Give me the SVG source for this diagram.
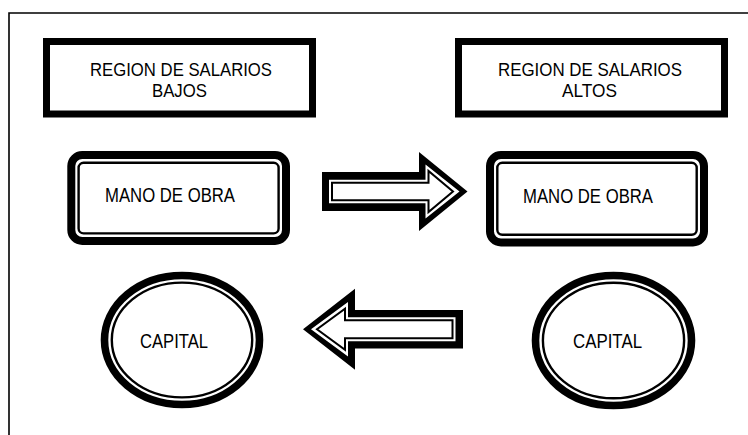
<svg xmlns="http://www.w3.org/2000/svg" width="748" height="435" viewBox="0 0 748 435">
<style>
  .lbl { font-family: "Liberation Sans", Arial, sans-serif; fill: #000; }
  .box { fill: #fff; stroke: #000; stroke-width: 7; }
  .thick { fill: #fff; stroke: #000; stroke-width: 8; }
  .thin { fill: #fff; stroke: #000; stroke-width: 2.4; }
  .ablack { fill: #000; }
  .awhite { fill: #fff; }
  .athin { fill: #fff; stroke: #000; stroke-width: 2; stroke-linejoin: miter; }
</style>
<rect x="0" y="0" width="748" height="435" fill="#fff"/>
<polyline points="9,435 9,13 748,13" fill="none" stroke="#000" stroke-width="1.6"/>

<g id="region-bajos">
  <rect class="box" x="46.5" y="41.5" width="266" height="72.5"/>
  <text class="lbl" font-size="18.5"><tspan x="90" y="75.5" textLength="182" lengthAdjust="spacingAndGlyphs">REGION DE SALARIOS</tspan><tspan x="152" y="96.5" textLength="55" lengthAdjust="spacingAndGlyphs">BAJOS</tspan></text>
</g>

<g id="region-altos">
  <rect class="box" x="458.5" y="41.5" width="266" height="72.5"/>
  <text class="lbl" font-size="18.5"><tspan x="498" y="75.5" textLength="184" lengthAdjust="spacingAndGlyphs">REGION DE SALARIOS</tspan><tspan x="562" y="96.5" textLength="55" lengthAdjust="spacingAndGlyphs">ALTOS</tspan></text>
</g>

<g id="mano-obra-bajos">
  <rect class="thick" x="71.3" y="155" width="214.7" height="86" rx="11" ry="11"/>
  <rect class="thin" x="78.6" y="162.8" width="200" height="70.6" rx="5" ry="5"/>
  <text class="lbl" x="105" y="202" font-size="20" textLength="130" lengthAdjust="spacingAndGlyphs">MANO DE OBRA</text>
</g>

<g id="mano-obra-altos">
  <rect class="thick" x="490" y="155" width="214" height="87.5" rx="11" ry="11"/>
  <rect class="thin" x="497.3" y="162.8" width="199.4" height="72" rx="5" ry="5"/>
  <text class="lbl" x="523" y="203" font-size="20" textLength="130" lengthAdjust="spacingAndGlyphs">MANO DE OBRA</text>
</g>

<g id="capital-bajos">
  <ellipse class="thick" cx="182" cy="340" rx="77.5" ry="64.5" style="stroke-width:7.6"/>
  <ellipse class="thin" cx="182" cy="340" rx="70.2" ry="57.4"/>
  <text class="lbl" x="140" y="348" font-size="20" textLength="68" lengthAdjust="spacingAndGlyphs">CAPITAL</text>
</g>

<g id="capital-altos">
  <ellipse class="thick" cx="613.5" cy="340.5" rx="78" ry="65" style="stroke-width:7.6"/>
  <ellipse class="thin" cx="613.5" cy="340.5" rx="70.6" ry="57.8"/>
  <text class="lbl" x="573" y="348" font-size="20" textLength="69" lengthAdjust="spacingAndGlyphs">CAPITAL</text>
</g>

<g id="connectors">
  <g id="arrow-mano-obra">
    <polygon class="ablack" points="322,172 419,172 419,152 467.5,191.5 419,231 419,211 322,211"/>
    <polygon class="awhite" points="329,179.8 425.5,179.8 425.5,164.5 459.5,191.5 425.5,218.5 425.5,203.2 329,203.2"/>
    <polygon class="athin" points="332,182.8 428.5,182.8 428.5,171 453,191.5 428.5,212 428.5,200.2 332,200.2"/>
  </g>
  <g id="arrow-capital">
    <polygon class="ablack" points="463,310.1 355,310.1 355,288.8 303,329.3 355,369.8 355,348.5 463,348.5"/>
    <polygon class="awhite" points="455.5,317.3 348,317.3 348,302 311,329.3 348,356.6 348,341.3 455.5,341.3"/>
    <polygon class="athin" points="452.5,320.3 345,320.3 345,308.8 317,329.3 345,349.8 345,338.3 452.5,338.3"/>
  </g>
</g>
</svg>
